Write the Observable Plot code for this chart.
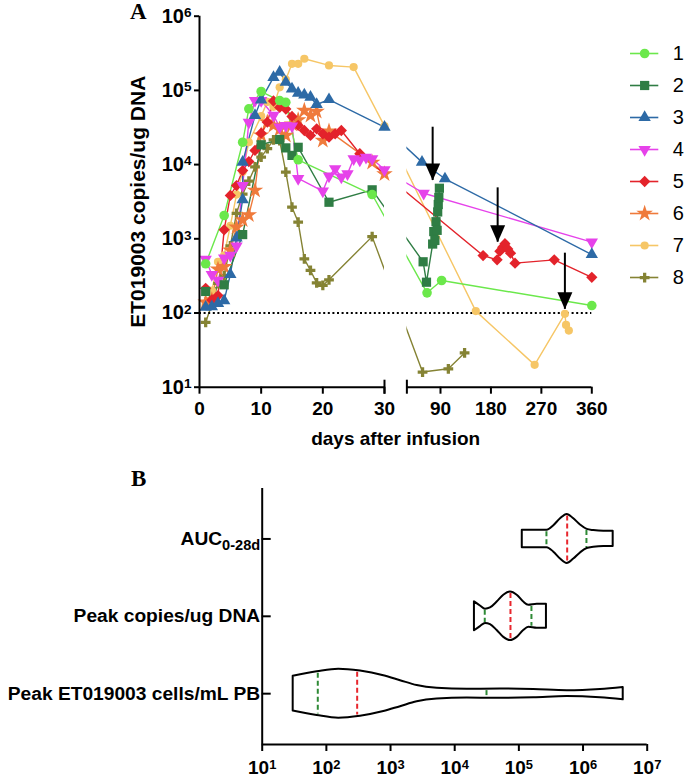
<!DOCTYPE html>
<html><head><meta charset="utf-8">
<script src="https://cdn.jsdelivr.net/npm/d3@7"></script>
<script src="https://cdn.jsdelivr.net/npm/@observablehq/plot@0.6"></script>
<style>
body{margin:0;background:#fff;}
#fig{position:relative;width:685px;height:778px;overflow:hidden;font-family:"Liberation Sans",Arial,sans-serif;}
#fig svg{position:absolute;}
.panel{position:absolute;font-family:"Liberation Serif","Times New Roman",serif;font-weight:bold;font-size:23px;line-height:23px;}
</style></head><body><div id="fig"></div><script>
// ---------- DATA ----------
const seriesNames = ["1","2","3","4","5","6","7","8"];
const seriesColors = ["#6be84b","#2f7d44","#2d6aa6","#e642ea","#e3232b","#ef7a3b","#f6c666","#858334"];
// [day, copies/ug DNA]
const s1 = [[1,460],[4,2060],[7,20000],[8,56500],[10,96600],[13,73000],[14,69000],[16,11600],[28,3950],[66,187],[92,274],[360,126]];
const s2 = [[1,195],[4,240],[7,1140],[10,18500],[13,21800],[14,16800],[15,13300],[16,17100],[21,3110],[28,4570],[59,490],[65,260],[76,850],[78,1250],[80,950],[82,1700],[84,1300],[85,2300],[86,2900],[87,3600],[88,4800]];
const s3 = [[1,120],[2,122],[3,135],[4,147],[5,330],[6,1030],[7,3360],[7,10800],[9,46000],[10,74700],[12,150000],[13,176000],[14,129000],[15,105000],[16,91600],[17,87000],[18,81000],[19,64600],[21,75300],[30,31900],[57,10800],[98,6440],[360,614]];
const s4 = [[1,530],[2,330],[3,275],[4,550],[5,600],[6,800],[7,5200],[8,37000],[9,73000],[10,73000],[12,46000],[13,32000],[14,33500],[15,33000],[16,6500],[20,4400],[21,7000],[22,8800],[23,6800],[24,7500],[25,12000],[26,11500],[27,12500],[28,12000],[30,8500],[60,4110],[360,900]];
const s5 = [[1,215],[2,150],[3,172],[4,1320],[5,3840],[6,5220],[7,8300],[8,11000],[9,15500],[10,26500],[11,37300],[12,72000],[13,59000],[14,56000],[15,44600],[16,33700],[17,28800],[18,24700],[19,30400],[20,26000],[21,23400],[22,26000],[23,28800],[26,14000],[166,595],[191,520],[196,680],[201,770],[205,860],[210,730],[215,640],[223,470],[293,520],[360,303]];
const s6 = [[1,140],[2,150],[3,390],[4,420],[5,700],[6,1430],[7,1800],[8,2100],[9,4500],[10,25000],[11,37300],[12,33600],[13,30000],[14,24700],[15,35000],[16,40000],[17,53500],[18,46000],[19,52000],[20,21100],[21,28200],[28,10700],[30,7500]];
const s7 = [[1,130],[2,200],[3,490],[4,600],[5,1500],[6,3950],[7,8000],[8,20000],[10,45000],[11,70000],[12,60000],[13,110000],[14,140000],[15,228000],[16,228000],[17,267000],[21,217000],[25,206000],[30,33000],[153,106],[258,20],[312,97.5],[314,69],[319,58]];
const s8 = [[1,75],[2,130],[3,250],[4,320],[5,800],[6,2200],[7,4000],[8,6000],[9,9300],[10,12600],[11,16400],[12,21600],[13,21100],[14,7900],[15,2670],[16,1680],[17,537],[18,374],[19,255],[20,235],[21,280],[28,1070],[58,16],[104,17.7],[133,29]];
const allSeries = [s1,s2,s3,s4,s5,s6,s7,s8];
// arrows (day, from, to)
const arrowDays = [76, 192, 312];
const arrowFrom = [31900, 4860, 640];
const arrowTo = [6100, 900, 112];
const lloq = 100;
const yTicksA = [1e1,1e2,1e3,1e4,1e5,1e6];
const xTicksLeft = [0,10,20,30];
const xTicksRight = [90,180,270,360];
const yLabelA = "ET019003 copies/ug DNA";
const xLabelA = "days after infusion";

// Panel B
const categories = ["AUC0-28d","Peak copies/ug DNA","Peak ET019003 cells/mL PB"];
const aucProfile = [[1.13e5,0.355],[2.76e5,0.355],[3.51e5,0.54],[4.46e5,0.82],[5.66e5,1],[7.18e5,0.82],[9.12e5,0.57],[1.16e6,0.39],[1.47e6,0.34],[2.11e6,0.31],[2.95e6,0.31]];
const copiesProfile = [[2.03e4,0.59],[2.52e4,0.42],[3.02e4,0.29],[3.61e4,0.34],[4.59e4,0.58],[5.82e4,0.86],[7.40e4,0.99],[9.42e4,0.86],[1.19e5,0.58],[1.43e5,0.45],[1.93e5,0.49],[2.69e5,0.49]];
const cellsProfile = [[30.4,0.71],[71.9,0.89],[156,1],[340,0.92],[785,0.73],[1430,0.53],[2600,0.33],[5330,0.22],[1.57e4,0.18],[5.16e4,0.19],[1.71e5,0.17],[5.66e5,0.12],[1.87e6,0.17],[4.23e6,0.25]];
const profiles = [aucProfile, copiesProfile, cellsProfile];
const quartiles = [[2.69e5,5.66e5,1.13e6],[2.94e4,7.40e4,1.57e5],[73.5,302,3.13e4]];
const xTicksB = [1e1,1e2,1e3,1e4,1e5,1e6,1e7];

// ---------- LAYOUT (axis break) ----------
const rightStart = 33.63, rightSlope = 0.09088;
const brk = d => d <= 30 ? d : rightStart + (d - 30) * rightSlope;
const unbrk = u => u <= 30.001 ? Math.round(u) : Math.round(30 + (u - rightStart) / rightSlope);

const font = '"Liberation Sans", Arial, sans-serif';
const colorScale = {domain: seriesNames, range: seriesColors};

// custom symbols
const triDown = {draw(ctx, size){const h=Math.sqrt(size/(Math.sqrt(3)*3)); ctx.moveTo(0,2*h); ctx.lineTo(Math.sqrt(3)*h,-h); ctx.lineTo(-Math.sqrt(3)*h,-h); ctx.closePath();}};
const diamondSq = {draw(ctx, size){const hd=Math.sqrt(size)/Math.SQRT2; ctx.moveTo(0,-hd); ctx.lineTo(hd,0); ctx.lineTo(0,hd); ctx.lineTo(-hd,0); ctx.closePath();}};
const arrowHead = {draw(ctx){ctx.moveTo(-7.5,-17); ctx.lineTo(7.5,-17); ctx.lineTo(0,0); ctx.closePath();}};
const symbols = ["circle","square","triangle",triDown,diamondSq,"star","circle","cross"];
const radii = [4.8,5.2,4.6,4.6,4.5,5.2,4.1,4.1];

const rows = [];
for (let i = allSeries.length - 1; i >= 0; --i)
  for (const [day, value] of allSeries[i]) rows.push({series: seriesNames[i], day, value, u: brk(day)});
const arrows = arrowDays.map((d, i) => ({u: brk(d), from: arrowFrom[i], to: arrowTo[i]}));

const dotMarks = [];
for (let i = allSeries.length - 1; i >= 0; --i)
  dotMarks.push(Plot.dot(rows.filter(r => r.series === seriesNames[i]), {x: "u", y: "value", fill: "series", symbol: symbols[i], r: radii[i]}));

const plotA = Plot.plot({
  width: 685, height: 460,
  marginLeft: 199, marginRight: 93.7, marginTop: 15.7, marginBottom: 73.3,
  x: {domain: [0, brk(360)]},
  y: {type: "log", domain: [10, 1e6]},
  color: colorScale,
  style: {fontFamily: font, fontWeight: "bold", fontSize: "17px", background: "transparent", overflow: "visible"},
  marks: [
    Plot.line(rows, {x: "u", y: "value", z: "series", stroke: "series", strokeWidth: 1.4}),
    Plot.rect([0], {x1: 30, x2: rightStart, y1: 10, y2: 1e6, fill: "white"}),
    Plot.ruleY([lloq], {x1: 0, x2: brk(360), stroke: "black", strokeWidth: 2.2, strokeDasharray: "2,2.6"}),
    ...dotMarks,
    Plot.ruleX(arrows, {x: "u", y1: "from", y2: "to", stroke: "black", strokeWidth: 2}),
    Plot.dot(arrows, {x: "u", y: "to", symbol: arrowHead, fill: "black"}),
    Plot.ruleX([0], {y1: 10, y2: 1e6, strokeWidth: 2}),
    Plot.ruleY([10], {x1: 0, x2: 30, strokeWidth: 2}),
    Plot.ruleY([10], {x1: rightStart, x2: brk(360), strokeWidth: 2}),
    Plot.ruleX([30, rightStart], {y1: 10, y2: 10, insetTop: -7, insetBottom: -7, strokeWidth: 2}),
    Plot.axisY({ticks: yTicksA, tickSize: 5, tickPadding: 3, tickFormat: d => `10^${Math.round(Math.log10(d))}`, fontSize: 20, strokeWidth: 2, label: null}),
    Plot.axisX({ticks: [...xTicksLeft, ...xTicksRight].map(brk), tickSize: 7, tickPadding: 7, tickFormat: unbrk, fontSize: 19, strokeWidth: 2, label: null}),
    Plot.text([yLabelA], {frameAnchor: "left", textAnchor: "middle", lineAnchor: "middle", dx: -61, rotate: -90, fontSize: 21}),
    Plot.text([xLabelA], {frameAnchor: "bottom", textAnchor: "middle", lineAnchor: "middle", dy: 52, fontSize: 19})
  ]
});

// legend
const legend = Plot.plot({
  width: 85, height: 310, margin: 0,
  x: {domain: [0, 1], range: [30, 58.3], axis: null},
  y: {type: "point", domain: seriesNames, range: [35.7, 293.3], axis: null},
  color: colorScale,
  style: {fontFamily: font, background: "transparent", overflow: "visible"},
  marks: [
    Plot.ruleY(seriesNames, {y: d => d, x1: 0, x2: 1, stroke: d => d, strokeWidth: 1.6}),
    ...seriesNames.map((s, i) => Plot.dot([s], {x: 0.5, y: d => d, fill: d => d, symbol: symbols[i], r: radii[i]})),
    Plot.text(seriesNames, {x: 1, y: d => d, text: d => d, textAnchor: "start", dx: 14, fontSize: 20, fontWeight: "normal", fill: "black"})
  ]
});

// ---------- PANEL B ----------
const VW = 0.317; // max half-width in category units
function densityAt(profile, v) {
  const lv = Math.log10(v);
  for (let j = 0; j < profile.length - 1; ++j) {
    const a = Math.log10(profile[j][0]), b = Math.log10(profile[j+1][0]);
    if (lv >= a && lv <= b) return profile[j][1] + (profile[j+1][1] - profile[j][1]) * (lv - a) / (b - a);
  }
  return profile[profile.length - 1][1];
}
const violinRows = profiles.flatMap((p, k) => p.map(([v, d]) => ({k, v, d})));
const qRows = quartiles.flatMap((q, k) => q.map((v, j) => ({k, v, d: densityAt(profiles[k], v), median: j === 1})));

const plotB = Plot.plot({
  width: 685, height: 308,
  marginLeft: 261.7, marginRight: 38.3, marginTop: 18, marginBottom: 34,
  x: {type: "log", domain: [10, 1e7]},
  y: {domain: [-0.652, 2.657], reverse: true},
  style: {fontFamily: font, fontWeight: "bold", fontSize: "18px", background: "transparent", overflow: "visible"},
  marks: [
    Plot.areaY(violinRows, {x: "v", y1: d => d.k - VW * d.d, y2: d => d.k + VW * d.d, z: "k", curve: "monotone-x", fill: "white", stroke: "black", strokeWidth: 2, strokeLinejoin: "round"}),
    Plot.ruleX(qRows, {x: "v", y1: d => d.k - VW * d.d, y2: d => d.k + VW * d.d, insetTop: 1.5, insetBottom: 1.5, stroke: d => d.median ? "#e8262d" : "#2e8a36", strokeWidth: 2, strokeDasharray: "5,3"}),
    Plot.ruleX([10], {y1: -0.652, y2: 2.657, strokeWidth: 2}),
    Plot.ruleY([2.657], {x1: 10, x2: 1e7, strokeWidth: 2}),
    Plot.ruleY([0,1,2], {x1: 10, x2: 10, insetRight: -9, strokeWidth: 2}),
    Plot.axisX({ticks: xTicksB, tickSize: 7, tickPadding: 9, tickFormat: d => `10^${Math.round(Math.log10(d))}`, fontSize: 19, strokeWidth: 2, label: null}),
    Plot.axisY({ticks: [0,1,2], tickSize: 0, tickPadding: 2, tickFormat: i => categories[i], fontSize: 19.2, label: null})
  ]
});

// rich text: superscripts / subscripts
function richText(svg) {
  d3.select(svg).selectAll("text").each(function() {
    const t = this.textContent;
    const m = /^10\^(-?\d+)$/.exec(t);
    if (m) {
      const s = d3.select(this); s.text("10");
      s.append("tspan").attr("dy", "-0.42em").attr("font-size", "0.68em").text(m[1]);
    } else if (t === "AUC0-28d") {
      const s = d3.select(this); s.text("AUC");
      s.append("tspan").attr("dy", "0.35em").attr("font-size", "0.76em").text("0-28d");
    }
  });
}
richText(plotA); richText(plotB);

const fig = document.getElementById("fig");
plotA.style.left = "0px"; plotA.style.top = "0px";
plotB.style.left = "0px"; plotB.style.top = "470px";
legend.style.left = "600px"; legend.style.top = "0px";
fig.append(plotA, plotB, legend);
const la = document.createElement("div"); la.className = "panel"; la.textContent = "A"; la.style.left = "130px"; la.style.top = "0px";
const lb = document.createElement("div"); lb.className = "panel"; lb.textContent = "B"; lb.style.left = "131px"; lb.style.top = "467px";
fig.append(la, lb);
</script></body></html>
